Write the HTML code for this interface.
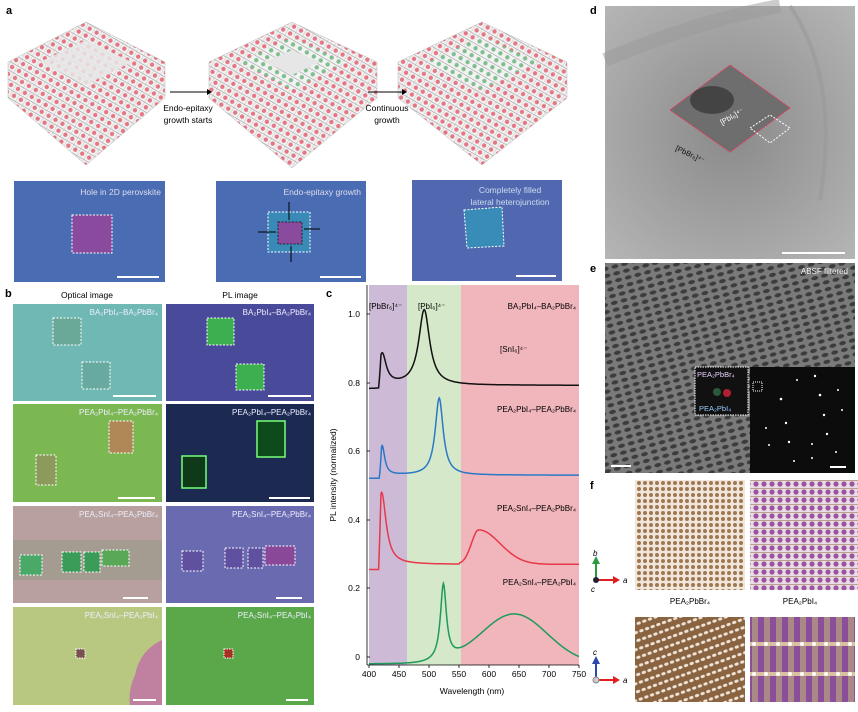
<!DOCTYPE html>
<html><head><meta charset="utf-8"><style>
body{margin:0;background:#fff;width:858px;height:712px;overflow:hidden;font-family:"Liberation Sans",sans-serif;}
svg{position:absolute;left:0;top:0}
</style></head><body>
<svg width="858" height="712" viewBox="0 0 858 712" font-family="Liberation Sans, sans-serif">
<defs>
<pattern id="mol" width="8" height="8" patternUnits="userSpaceOnUse" patternTransform="rotate(30)">
<rect width="8" height="8" fill="#f2f2f2"/><circle cx="4" cy="4" r="2.2" fill="#e57784"/><line x1="0" y1="0" x2="8" y2="0" stroke="#888" stroke-width="0.9"/><line x1="0" y1="0" x2="0" y2="8" stroke="#aaa" stroke-width="0.6"/></pattern>
<pattern id="molg" width="8" height="8" patternUnits="userSpaceOnUse" patternTransform="rotate(30)">
<rect width="8" height="8" fill="#f2f2f2"/><circle cx="4" cy="4" r="2.2" fill="#7fbf8f"/><line x1="0" y1="0" x2="8" y2="0" stroke="#888" stroke-width="0.9"/></pattern>
<pattern id="lat" width="10" height="7" patternUnits="userSpaceOnUse" patternTransform="rotate(-15)">
<rect width="10" height="7" fill="#7a7a7a"/><ellipse cx="5" cy="3.5" rx="3.5" ry="2" fill="#3c3c3c"/></pattern>
<pattern id="br" width="6" height="6" patternUnits="userSpaceOnUse"><rect width="6" height="6" fill="#f1e6dc"/><circle cx="3" cy="3" r="2" fill="#a07850"/></pattern>
<pattern id="pi" width="8" height="8" patternUnits="userSpaceOnUse"><rect width="8" height="8" fill="#e9dce6"/><circle cx="4" cy="4" r="2.6" fill="#9a55a0"/><line x1="0" y1="0" x2="8" y2="0" stroke="#a07850" stroke-width="1.2"/></pattern>
<pattern id="br2" width="8" height="6" patternUnits="userSpaceOnUse" patternTransform="rotate(70)"><rect width="8" height="6" fill="#8a6440"/><ellipse cx="4" cy="3" rx="1.5" ry="2.2" fill="#f0e4d8"/></pattern>
<pattern id="pi2" width="12" height="30" patternUnits="userSpaceOnUse"><rect width="12" height="30" fill="#a88"/><rect x="2" width="6" height="30" fill="#8b4f9a"/><rect y="12" width="12" height="4" fill="#d8c0a0"/><circle cx="10" cy="14" r="2" fill="#fff"/></pattern>
<radialGradient id="dg" cx="0.5" cy="0.5" r="0.7"><stop offset="0" stop-color="#8a8a8a"/><stop offset="1" stop-color="#b5b5b5"/></radialGradient>
</defs>
<text x="6" y="14" font-size="11" font-weight="bold">a</text>
<polygon points="8,62 86,22 165,62 165,98 86,165 8,98" fill="url(#mol)" stroke="#bbb" stroke-width="0.5"/>
<polygon points="40,62 86,40 132,62 86,85" fill="#e8e8e8" opacity="0.85"/>
<polygon points="209,62 292,22 377,62 377,98 292,168 209,98" fill="url(#mol)" stroke="#bbb" stroke-width="0.5"/>
<polygon points="240,62 292,37 345,62 292,90" fill="url(#molg)"/>
<polygon points="265,62 292,50 320,62 292,75" fill="#e6e6e6"/>
<polygon points="398,62 482,22 567,62 567,98 482,165 398,98" fill="url(#mol)" stroke="#bbb" stroke-width="0.5"/>
<polygon points="428,62 482,36 537,62 482,90" fill="url(#molg)"/>
<line x1="170" y1="92" x2="207" y2="92" stroke="#000" stroke-width="1"/><polygon points="207,89 212,92 207,95"/>
<line x1="368" y1="92" x2="402" y2="92" stroke="#000" stroke-width="1"/><polygon points="402,89 407,92 402,95"/>
<text x="188" y="111" font-size="8.5" text-anchor="middle">Endo-epitaxy</text>
<text x="188" y="123" font-size="8.5" text-anchor="middle">growth starts</text>
<text x="387" y="111" font-size="8.5" text-anchor="middle">Continuous</text>
<text x="387" y="123" font-size="8.5" text-anchor="middle">growth</text>
<rect x="14" y="181" width="151" height="101" fill="#4a6cb2"/>
<text x="161" y="195" font-size="8.5" fill="#dde" text-anchor="end">Hole in 2D perovskite</text>
<rect x="72" y="215" width="40" height="38" fill="#8a4a9e" stroke="#fff" stroke-dasharray="2,1.5" stroke-width="1"/>
<line x1="117" y1="277" x2="159" y2="277" stroke="#fff" stroke-width="2"/>
<rect x="216" y="181" width="150" height="101" fill="#4a6cb2"/>
<text x="361" y="195" font-size="8.5" fill="#dde" text-anchor="end">Endo-epitaxy growth</text>
<rect x="268" y="212" width="42" height="40" fill="#3a8ab8" stroke="#fff" stroke-dasharray="2,1.5"/>
<rect x="278" y="222" width="24" height="22" fill="#8a4a9e" stroke="#222" stroke-dasharray="2,1.5"/>
<g stroke="#000" stroke-width="1"><line x1="289" y1="202" x2="289" y2="220"/><line x1="291" y1="262" x2="291" y2="246"/><line x1="258" y1="232" x2="276" y2="232"/><line x1="320" y1="229" x2="304" y2="229"/></g>
<line x1="320" y1="277" x2="361" y2="277" stroke="#fff" stroke-width="2"/>
<rect x="412" y="180" width="150" height="101" fill="#5168b0"/>
<text x="510" y="193" font-size="8.5" fill="#cde" text-anchor="middle">Completely filled</text>
<text x="510" y="205" font-size="8.5" fill="#cde" text-anchor="middle">lateral heterojunction</text>
<polygon points="464,210 502,207 504,246 467,248" fill="#3a8cb8" stroke="#fff" stroke-dasharray="2,1.5"/>
<line x1="516" y1="276" x2="556" y2="276" stroke="#fff" stroke-width="2"/>
<text x="5" y="297" font-size="11" font-weight="bold">b</text>
<text x="87" y="298" font-size="8.5" text-anchor="middle">Optical image</text>
<text x="240" y="298" font-size="8.5" text-anchor="middle">PL image</text>
<g font-size="8">
<rect x="13" y="304" width="149" height="97" fill="#6fb8b4"/>
<rect x="53" y="318" width="28" height="27" fill="#6aa898" stroke="#fff" stroke-dasharray="2,1.5"/>
<rect x="82" y="362" width="28" height="27" fill="#68aaa0" stroke="#fff" stroke-dasharray="2,1.5"/>
<line x1="113" y1="396" x2="156" y2="396" stroke="#fff" stroke-width="2"/>
<text x="158" y="315" fill="#eef" text-anchor="end">BA₂PbI₄–BA₂PbBr₄</text>
<rect x="166" y="304" width="148" height="97" fill="#4a4a9a"/>
<rect x="207" y="318" width="27" height="27" fill="#3cb050" stroke="#fff" stroke-dasharray="2,1.5"/>
<rect x="236" y="364" width="28" height="26" fill="#3cb050" stroke="#fff" stroke-dasharray="2,1.5"/>
<line x1="268" y1="396" x2="311" y2="396" stroke="#fff" stroke-width="2"/>
<text x="311" y="315" fill="#eef" text-anchor="end">BA₂PbI₄–BA₂PbBr₄</text>
<rect x="13" y="404" width="149" height="98" fill="#7cb852"/>
<rect x="109" y="421" width="24" height="32" fill="#b08858" stroke="#fff" stroke-dasharray="2,1.5"/>
<rect x="36" y="455" width="20" height="30" fill="#8c9a5c" stroke="#fff" stroke-dasharray="2,1.5"/>
<line x1="118" y1="498" x2="155" y2="498" stroke="#fff" stroke-width="2"/>
<text x="158" y="415" fill="#eef" text-anchor="end">PEA₂PbI₄–PEA₂PbBr₄</text>
<rect x="166" y="404" width="148" height="98" fill="#1c2a52"/>
<rect x="257" y="421" width="28" height="36" fill="#0e4a1c" stroke="#7f7" stroke-width="1.5"/>
<rect x="182" y="456" width="24" height="32" fill="#0e3a1a" stroke="#7f7" stroke-width="1.5"/>
<line x1="269" y1="498" x2="310" y2="498" stroke="#fff" stroke-width="2"/>
<text x="311" y="415" fill="#eef" text-anchor="end">PEA₂PbI₄–PEA₂PbBr₄</text>
<rect x="13" y="506" width="149" height="97" fill="#b7a09e"/>
<rect x="13" y="540" width="149" height="40" fill="#9a9a88" opacity="0.6"/>
<rect x="20" y="555" width="22" height="20" fill="#4aa868" stroke="#fff" stroke-dasharray="2,1.5"/>
<rect x="62" y="552" width="19" height="20" fill="#3a9c58" stroke="#fff" stroke-dasharray="2,1.5"/>
<rect x="84" y="552" width="16" height="20" fill="#3a9c58" stroke="#fff" stroke-dasharray="2,1.5"/>
<rect x="102" y="550" width="27" height="16" fill="#58a858" stroke="#fff" stroke-dasharray="2,1.5"/>
<line x1="123" y1="598" x2="148" y2="598" stroke="#fff" stroke-width="2"/>
<text x="158" y="517" fill="#eef" text-anchor="end">PEA₂SnI₄–PEA₂PbBr₄</text>
<rect x="166" y="506" width="148" height="97" fill="#6a6ab0"/>
<rect x="182" y="551" width="21" height="20" fill="#6050a0" stroke="#fff" stroke-dasharray="2,1.5"/>
<rect x="225" y="548" width="18" height="20" fill="#6050a0" stroke="#fff" stroke-dasharray="2,1.5"/>
<rect x="248" y="548" width="15" height="20" fill="#6050a0" stroke="#fff" stroke-dasharray="2,1.5"/>
<rect x="265" y="546" width="30" height="19" fill="#8a4898" stroke="#fff" stroke-dasharray="2,1.5"/>
<line x1="276" y1="598" x2="302" y2="598" stroke="#fff" stroke-width="2"/>
<text x="311" y="517" fill="#eef" text-anchor="end">PEA₂SnI₄–PEA₂PbBr₄</text>
<rect x="13" y="607" width="149" height="98" fill="#b8c880"/>
<path d="M130,705 L162,705 L162,640 Q140,650 135,675 Q128,690 130,705Z" fill="#c080a0"/>
<rect x="76" y="649" width="9" height="9" fill="#7a5050" stroke="#fff" stroke-dasharray="1.5,1"/>
<line x1="133" y1="700" x2="156" y2="700" stroke="#fff" stroke-width="2"/>
<text x="158" y="618" fill="#eef" text-anchor="end">PEA₂SnI₄–PEA₂PbI₄</text>
<rect x="166" y="607" width="148" height="98" fill="#5aa84a"/>
<rect x="224" y="649" width="9" height="9" fill="#a83020" stroke="#fff" stroke-dasharray="1.5,1"/>
<line x1="286" y1="700" x2="308" y2="700" stroke="#fff" stroke-width="2"/>
<text x="311" y="618" fill="#eef" text-anchor="end">PEA₂SnI₄–PEA₂PbI₄</text>
</g>
<text x="326" y="297" font-size="11" font-weight="bold">c</text>
<rect x="369" y="285" width="38" height="380" fill="#cdbad6"/>
<rect x="407" y="285" width="54" height="380" fill="#d5e8c9"/>
<rect x="461" y="285" width="118" height="380" fill="#f0b6bc"/>
<line x1="367" y1="285" x2="367" y2="665" stroke="#000" stroke-width="0.8"/>
<line x1="367" y1="665" x2="579" y2="665" stroke="#000" stroke-width="0.8"/>
<g font-size="8.5" text-anchor="end">
<text x="360" y="317">1.0</text><text x="360" y="386">0.8</text><text x="360" y="454">0.6</text><text x="360" y="523">0.4</text><text x="360" y="591">0.2</text><text x="360" y="660">0</text>
</g>
<g stroke="#000" stroke-width="0.8">
<line x1="367" y1="314" x2="370" y2="314"/><line x1="367" y1="383" x2="370" y2="383"/><line x1="367" y1="451" x2="370" y2="451"/><line x1="367" y1="520" x2="370" y2="520"/><line x1="367" y1="588" x2="370" y2="588"/><line x1="367" y1="657" x2="370" y2="657"/>
<line x1="369" y1="665" x2="369" y2="668"/><line x1="399" y1="665" x2="399" y2="668"/><line x1="429" y1="665" x2="429" y2="668"/><line x1="459" y1="665" x2="459" y2="668"/><line x1="489" y1="665" x2="489" y2="668"/><line x1="519" y1="665" x2="519" y2="668"/><line x1="549" y1="665" x2="549" y2="668"/><line x1="579" y1="665" x2="579" y2="668"/>
</g>
<g font-size="8.5" text-anchor="middle">
<text x="369" y="677">400</text><text x="399" y="677">450</text><text x="429" y="677">500</text><text x="459" y="677">550</text><text x="489" y="677">600</text><text x="519" y="677">650</text><text x="549" y="677">700</text><text x="579" y="677">750</text>
<text x="472" y="694">Wavelength (nm)</text>
</g>
<text transform="translate(336,475) rotate(-90)" font-size="8.5" text-anchor="middle">PL intensity (normalized)</text>
<g font-size="8">
<text x="369" y="309">[PbBr₆]⁴⁻</text><text x="418" y="309">[PbI₆]⁴⁻</text>
<text x="576" y="309" text-anchor="end">BA₂PbI₄–BA₂PbBr₄</text>
<text x="500" y="352">[SnI₆]⁴⁻</text>
<text x="576" y="412" text-anchor="end">PEA₂PbI₄–PEA₂PbBr₄</text>
<text x="576" y="511" text-anchor="end">PEA₂SnI₄–PEA₂PbBr₄</text>
<text x="576" y="585" text-anchor="end">PEA₂SnI₄–PEA₂PbI₄</text>
</g>
<path id="pk" fill="none" stroke="#111" stroke-width="1.5"/>
<path id="pb" fill="none" stroke="#2a78c8" stroke-width="1.5"/>
<path id="pr" fill="none" stroke="#e8384a" stroke-width="1.5"/>
<path id="pg" fill="none" stroke="#1e9a5a" stroke-width="1.5"/>
<text x="590" y="14" font-size="11" font-weight="bold">d</text>
<rect x="605" y="6" width="250" height="253" fill="url(#dg)"/>
<path d="M605,60 Q700,20 780,6" stroke="#999" stroke-width="14" fill="none" opacity="0.5"/>
<path d="M790,6 Q840,80 820,200" stroke="#999" stroke-width="4" fill="none" opacity="0.6"/>
<polygon points="670,110 730,65 790,108 730,152" fill="#6e6e6e" stroke="#e23a5a" stroke-dasharray="2,1" stroke-width="1"/>
<ellipse cx="712" cy="100" rx="22" ry="14" fill="#444"/>
<polygon points="750,128 770,115 790,128 770,143" fill="none" stroke="#fff" stroke-dasharray="2,1.5"/>
<text x="722" y="125" font-size="7.5" fill="#fff" transform="rotate(-30,722,125)">[PbI₆]⁴⁻</text>
<text x="675" y="150" font-size="7.5" fill="#111" transform="rotate(25,675,150)">[PbBr₆]⁴⁻</text>
<line x1="782" y1="253" x2="845" y2="253" stroke="#fff" stroke-width="2"/>
<text x="590" y="272" font-size="11" font-weight="bold">e</text>
<rect x="605" y="263" width="250" height="210" fill="url(#lat)"/>
<text x="848" y="274" font-size="8" fill="#eee" text-anchor="end">ABSF filtered</text>
<rect x="750" y="367" width="105" height="106" fill="#0c0c0c"/>
<g fill="#fff">
<circle cx="815" cy="376" r="1.2"/><circle cx="797" cy="380" r="1"/><circle cx="820" cy="395" r="1.3"/><circle cx="838" cy="390" r="1"/><circle cx="781" cy="399" r="1.3"/><circle cx="824" cy="415" r="1.2"/><circle cx="842" cy="410" r="1"/><circle cx="786" cy="423" r="1.2"/><circle cx="766" cy="428" r="1"/><circle cx="827" cy="434" r="1.2"/><circle cx="789" cy="442" r="1.2"/><circle cx="812" cy="444" r="1"/><circle cx="769" cy="445" r="1"/><circle cx="794" cy="461" r="1"/><circle cx="812" cy="458" r="1"/><circle cx="836" cy="452" r="1"/>
</g>
<rect x="753" y="382" width="9" height="9" fill="none" stroke="#fff" stroke-dasharray="1,1"/>
<line x1="830" y1="467" x2="846" y2="467" stroke="#fff" stroke-width="2"/>
<rect x="695" y="367" width="53" height="48" fill="#111" stroke="#fff" stroke-dasharray="1.5,1"/>
<circle cx="717" cy="392" r="4" fill="#2a5a3a"/><circle cx="727" cy="393" r="4" fill="#b02030"/>
<text x="697" y="377" font-size="7.5" fill="#e8d0ff">PEA₂PbBr₄</text>
<text x="699" y="411" font-size="7.5" fill="#9cf">PEA₂PbI₄</text>
<line x1="611" y1="466" x2="631" y2="466" stroke="#fff" stroke-width="2"/>
<text x="590" y="489" font-size="11" font-weight="bold">f</text>
<rect x="635" y="480" width="110" height="110" fill="url(#br)"/>
<rect x="750" y="480" width="108" height="110" fill="url(#pi)"/>
<text x="690" y="604" font-size="8" text-anchor="middle">PEA₂PbBr₄</text>
<text x="800" y="604" font-size="8" text-anchor="middle">PEA₂PbI₄</text>
<rect x="635" y="617" width="110" height="85" fill="url(#br2)"/>
<rect x="750" y="617" width="105" height="85" fill="url(#pi2)"/>
<line x1="596" y1="580" x2="596" y2="562" stroke="#2a9a40" stroke-width="2"/><polygon points="592,564 596,556 600,564" fill="#2a9a40"/>
<line x1="596" y1="580" x2="615" y2="580" stroke="#e02020" stroke-width="2"/><polygon points="613,576 620,580 613,584" fill="#e02020"/>
<circle cx="596" cy="580" r="3" fill="#223"/>
<text x="593" y="556" font-size="8" font-style="italic">b</text><text x="623" y="583" font-size="8" font-style="italic">a</text><text x="591" y="592" font-size="8" font-style="italic">c</text>
<line x1="596" y1="680" x2="596" y2="662" stroke="#2a4aa8" stroke-width="2"/><polygon points="592,664 596,656 600,664" fill="#2a4aa8"/>
<line x1="596" y1="680" x2="615" y2="680" stroke="#e02020" stroke-width="2"/><polygon points="613,676 620,680 613,684" fill="#e02020"/>
<circle cx="596" cy="680" r="3" fill="#ccc" stroke="#888"/>
<text x="593" y="655" font-size="8" font-style="italic">c</text><text x="623" y="683" font-size="8" font-style="italic">a</text>
</svg>
<script>
function X(n){return 369+(n-400)*0.6}
function Y(v){return 657-v*343}
function L(x,c,w){return 1/(1+((x-c)/w)*((x-c)/w))}
function onset(x,s){return x<s?0:(x<s+4?(x-s)/4:1)}
function mk(id,f){var d='';for(var n=400;n<=750;n+=1){d+=(n==400?'M':'L')+X(n).toFixed(1)+','+Y(f(n)).toFixed(1)}document.getElementById(id).setAttribute('d',d)}
mk('pk',function(x){return 0.78+onset(x,416)*(0.09*L(x,422,8)+0.012)+0.22*L(x,492,11)});
mk('pb',function(x){return 0.52+onset(x,417)*(0.085*L(x,422,5)+0.01)+0.225*L(x,517,8)});
mk('pr',function(x){return 0.255+onset(x,416)*(0.21*L(x,421,9)+0.015)+(x>550?0.1*Math.exp(-Math.pow(x-583,2)/(x<583?300:2500)):0)});
mk('pg',function(x){return -0.02+0.22*L(x,524,6)+0.145*Math.exp(-Math.pow(x-642,2)/6050)});
</script>
</body></html>
